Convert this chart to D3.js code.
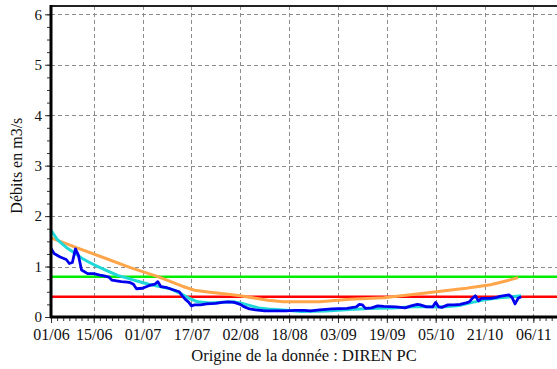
<!DOCTYPE html>
<html><head><meta charset="utf-8">
<script src="https://cdn.jsdelivr.net/npm/d3@7"></script>
<style>
html,body{margin:0;padding:0;background:#fff;}
svg{display:block;}
svg text{font-family:"Liberation Serif","Times New Roman",serif;}
</style></head>
<body><svg id="c" width="557" height="369"></svg>
<script>
const xTickLabels = ["2007-06-01","2007-06-15","2007-07-01","2007-07-17","2007-08-02","2007-08-18","2007-09-03","2007-09-19","2007-10-05","2007-10-21","2007-11-06"];
const yTickLabels = [0,1,2,3,4,5,6];

const observedDates = ["2007-06-01","2007-06-02","2007-06-04","2007-06-06","2007-06-07","2007-06-08","2007-06-09","2007-06-10","2007-06-11","2007-06-13","2007-06-15","2007-06-17","2007-06-18","2007-06-20","2007-06-21","2007-06-24","2007-06-26","2007-06-27","2007-06-28","2007-06-29","2007-07-01","2007-07-03","2007-07-05","2007-07-06","2007-07-07","2007-07-09","2007-07-11","2007-07-13","2007-07-14","2007-07-15","2007-07-16","2007-07-17","2007-07-18","2007-07-20","2007-07-22","2007-07-25","2007-07-27","2007-07-29","2007-07-31","2007-08-02","2007-08-03","2007-08-05","2007-08-07","2007-08-10","2007-08-13","2007-08-17","2007-08-20","2007-08-23","2007-08-25","2007-08-28","2007-09-01","2007-09-06","2007-09-09","2007-09-10","2007-09-11","2007-09-12","2007-09-14","2007-09-16","2007-09-18","2007-09-22","2007-09-25","2007-09-27","2007-09-29","2007-09-30","2007-10-02","2007-10-04","2007-10-05","2007-10-06","2007-10-07","2007-10-09","2007-10-11","2007-10-13","2007-10-15","2007-10-16","2007-10-17","2007-10-18","2007-10-19","2007-10-20","2007-10-23","2007-10-25","2007-10-26","2007-10-28","2007-10-29","2007-10-30","2007-10-31","2007-11-01","2007-11-02"];
const observedValues = [1.36,1.26,1.19,1.14,1.06,1.08,1.35,1.22,0.93,0.86,0.86,0.83,0.82,0.79,0.73,0.70,0.69,0.68,0.65,0.56,0.57,0.62,0.65,0.70,0.60,0.58,0.54,0.50,0.42,0.35,0.30,0.22,0.24,0.24,0.26,0.27,0.29,0.30,0.29,0.25,0.21,0.16,0.14,0.12,0.12,0.12,0.13,0.13,0.12,0.14,0.16,0.17,0.20,0.25,0.24,0.17,0.18,0.22,0.21,0.20,0.18,0.22,0.25,0.24,0.20,0.20,0.29,0.20,0.19,0.24,0.24,0.25,0.28,0.30,0.37,0.42,0.32,0.37,0.37,0.39,0.41,0.43,0.44,0.39,0.26,0.37,0.40];

const smoothDates = ["2007-06-01","2007-06-03","2007-06-06","2007-06-08","2007-06-11","2007-06-13","2007-06-16","2007-06-20","2007-06-23","2007-06-26","2007-06-30","2007-07-03","2007-07-07","2007-07-10","2007-07-13","2007-07-16","2007-07-19","2007-07-23","2007-07-27","2007-07-31","2007-08-02","2007-08-05","2007-08-08","2007-08-11","2007-08-16","2007-08-22","2007-08-30","2007-09-07","2007-09-13","2007-09-21","2007-09-29","2007-10-07","2007-10-13","2007-10-17","2007-10-21","2007-10-26","2007-10-30","2007-11-02"];
const smoothValues = [1.72,1.54,1.38,1.30,1.17,1.10,1.01,0.90,0.82,0.77,0.70,0.65,0.60,0.56,0.48,0.38,0.30,0.28,0.29,0.30,0.28,0.23,0.18,0.16,0.14,0.11,0.12,0.15,0.17,0.18,0.21,0.20,0.23,0.29,0.34,0.38,0.40,0.42];

const referenceDates = ["2007-06-01","2007-06-10","2007-06-19","2007-06-27","2007-07-06","2007-07-14","2007-07-18","2007-07-23","2007-07-29","2007-08-02","2007-08-07","2007-08-11","2007-08-16","2007-08-20","2007-08-28","2007-09-07","2007-09-18","2007-10-01","2007-10-15","2007-10-23","2007-10-29","2007-11-01"];
const referenceValues = [1.57,1.36,1.16,0.98,0.80,0.61,0.53,0.49,0.45,0.42,0.37,0.33,0.30,0.30,0.30,0.35,0.38,0.47,0.57,0.64,0.73,0.78];

const thresholdHigh = 0.8;
const thresholdLow = 0.4;

const FONT = '"Liberation Serif","Times New Roman",serif';
const parse = d3.timeParse("%Y-%m-%d");
const svg = d3.select("#c");
const pL = 51, pT = 6, pB = 317, pR = 557;
const start = parse("2007-06-01"), end = parse("2007-11-15");
const pxPerDay = 3.053;
const x = d3.scaleTime().domain([start, end]).range([pL, pL + pxPerDay * d3.timeDay.count(start, end)]);
const y = d3.scaleLinear().domain([0, 6]).range([pB, 14.3]);

// grid
const g = svg.append("g");
g.selectAll("line.h").data(yTickLabels.slice(1)).join("line")
  .attr("x1", pL).attr("x2", pR).attr("y1", d => Math.round(y(d)) + 0.5).attr("y2", d => Math.round(y(d)) + 0.5)
  .attr("stroke", "#8c8c8c").attr("stroke-width", 1).attr("stroke-dasharray", "4,3");
g.selectAll("line.v").data(xTickLabels.slice(1).map(parse)).join("line")
  .attr("x1", d => Math.round(x(d)) + 0.5).attr("x2", d => Math.round(x(d)) + 0.5).attr("y1", pT).attr("y2", pB)
  .attr("stroke", "#8c8c8c").attr("stroke-width", 1).attr("stroke-dasharray", "4,3");

// thresholds
svg.append("line").attr("x1", pL).attr("x2", pR).attr("y1", y(thresholdHigh)).attr("y2", y(thresholdHigh))
  .attr("stroke", "#00ee00").attr("stroke-width", 2.5);
svg.append("line").attr("x1", pL).attr("x2", pR).attr("y1", y(thresholdLow)).attr("y2", y(thresholdLow))
  .attr("stroke", "#ff0000").attr("stroke-width", 2.5);

const line = d3.line().x(d => x(d[0])).y(d => y(d[1]));
function series(dates, vals, color, w) {
  svg.append("path").datum(dates.map((d, i) => [parse(d), vals[i]]))
    .attr("d", line).attr("fill", "none").attr("stroke", color).attr("stroke-width", w)
    .attr("stroke-linejoin", "round");
}
series(referenceDates, referenceValues, "#ffa54a", 3);
series(smoothDates, smoothValues, "#20d8d8", 3);
series(observedDates, observedValues, "#0000ee", 2.8);

// top border
svg.append("line").attr("x1", pL).attr("x2", pR).attr("y1", pT).attr("y2", pT)
  .attr("stroke", "#222").attr("stroke-width", 2);

// axes
const minorX = d3.range(0, 170, 2).map(k => d3.timeDay.offset(start, k));
const axMinorX = svg.append("g").attr("transform", `translate(0,${pB})`)
  .call(d3.axisBottom(x).tickValues(minorX).tickSize(4).tickFormat(""));
const axX = svg.append("g").attr("transform", `translate(0,${pB})`)
  .call(d3.axisBottom(x).tickValues(xTickLabels.map(parse)).tickSize(6).tickPadding(6).tickFormat(d3.timeFormat("%d/%m")));
const minorY = d3.range(0, 6.01, 0.25);
const axMinorY = svg.append("g").attr("transform", `translate(${pL},0)`)
  .call(d3.axisLeft(y).tickValues(minorY).tickSize(4).tickFormat(""));
const axY = svg.append("g").attr("transform", `translate(${pL},0)`)
  .call(d3.axisLeft(y).tickValues(yTickLabels).tickSize(6).tickPadding(3).tickFormat(d3.format("d")));
[axMinorX, axX, axMinorY, axY].forEach(a => { a.select(".domain").remove(); a.selectAll("line").attr("stroke", "#333"); a.attr("font-family", FONT); });
axX.selectAll("text").attr("font-size", 16).attr("fill", "#111").style("font-family", FONT);
axY.selectAll("text").attr("font-size", 15).attr("fill", "#111").style("font-family", FONT);

svg.append("line").attr("x1", pL - 1).attr("x2", pR).attr("y1", pB).attr("y2", pB)
  .attr("stroke", "#000").attr("stroke-width", 3);
svg.append("line").attr("x1", pL).attr("x2", pL).attr("y1", pT - 1).attr("y2", pB + 1)
  .attr("stroke", "#000").attr("stroke-width", 3);

svg.append("text").attr("transform", `translate(22,${y(3)}) rotate(-90)`).attr("text-anchor", "middle")
  .attr("font-size", 16).attr("fill", "#111").style("font-family", FONT).text("Débits en m3/s");
svg.append("text").attr("x", 304).attr("y", 361).attr("text-anchor", "middle")
  .attr("font-size", 16.5).attr("fill", "#111").style("font-family", FONT).text("Origine de la donnée : DIREN PC");
</script></body></html>
